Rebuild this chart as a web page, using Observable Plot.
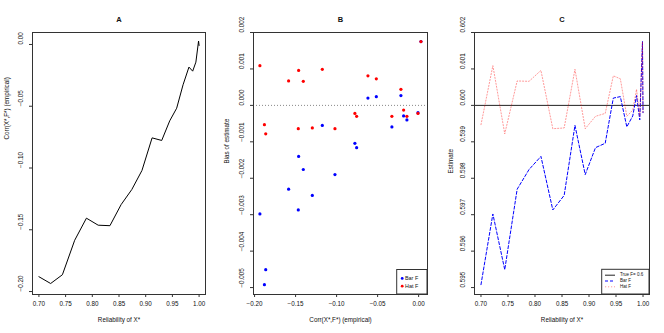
<!DOCTYPE html>
<html><head><meta charset="utf-8">
<script src="https://cdn.jsdelivr.net/npm/d3@7"></script>
<script src="https://cdn.jsdelivr.net/npm/@observablehq/plot@0.6"></script>
<style>
body{margin:0;background:#fff}
#wrap{position:relative;width:664px;height:333px;background:#fff;overflow:hidden}
.panel{position:absolute;top:0}
#legend{position:absolute;left:0;top:0;pointer-events:none}
</style></head><body><div id="wrap"></div>
<script>
// ---- data ----
const reliability = [0.700, 0.722, 0.744, 0.767, 0.789, 0.811, 0.833, 0.854, 0.874, 0.893,
                     0.912, 0.930, 0.945, 0.958, 0.970, 0.981, 0.988, 0.994, 0.999, 1.000];
const corrEmpirical = [-0.1880, -0.1935, -0.1864, -0.1585, -0.1406, -0.1463, -0.1467, -0.1296, -0.1174, -0.1020,
                       -0.0756, -0.0777, -0.0618, -0.0516, -0.0326, -0.0183, -0.0216, -0.0143, 0.0028, -0.0008];
const barF = [0.59508, 0.59702, 0.59549, 0.59770, 0.59824, 0.59860, 0.59713, 0.59753, 0.59945, 0.59810,
              0.59884, 0.59896, 0.60020, 0.60024, 0.59941, 0.59971, 0.60027, 0.59960, 0.60175, 0.59980];
const hatF = [0.59947, 0.60109, 0.59922, 0.60067, 0.60066, 0.60096, 0.59936, 0.59938, 0.60099, 0.59936,
              0.59970, 0.59978, 0.60081, 0.60073, 0.59970, 0.59987, 0.60044, 0.59970, 0.60175, 0.59978];
const trueF = 0.6;

const ticksRel = [0.70, 0.75, 0.80, 0.85, 0.90, 0.95, 1.00];
const ticksCorrA = [0.00, -0.05, -0.10, -0.15, -0.20];
const ticksCorrB = [-0.20, -0.15, -0.10, -0.05, 0.00];
const ticksBias = [0.002, 0.001, 0.000, -0.001, -0.002, -0.003, -0.004, -0.005];
const ticksEst = [0.595, 0.596, 0.597, 0.598, 0.599, 0.600, 0.601, 0.602];

const rows = reliability.map((r, i) => ({r, corr: corrEmpirical[i], bar: barF[i], hat: hatF[i]}));

// ---- helpers ----
const FONT = "'Liberation Sans', Arial, Helvetica, sans-serif";
const fmt = (k) => (d) => (d < 0 ? "\u2212" : "") + Math.abs(d).toFixed(k);
const TXT = "#111";

function decor({xTicks, yTicks, xf, yf, title, xLabel, yLabel, yLabelDx, yLabelDy}) {
  return [
    Plot.frame({stroke: "#333", strokeWidth: 1}),
    Plot.axisX({ticks: xTicks, tickSize: 3, tickFormat: () => "", label: null, stroke: "#333"}),
    Plot.axisY({ticks: yTicks, tickSize: 3, tickFormat: () => "", label: null, stroke: "#333"}),
    Plot.text(xTicks, {x: d => d, text: xf, frameAnchor: "bottom", dy: 11, fontSize: 6.3, fill: TXT}),
    Plot.text(yTicks, {y: d => d, text: yf, frameAnchor: "left", dx: -12, rotate: -90, fontSize: 6.3, fill: TXT}),
    Plot.text([title], {text: d => d, frameAnchor: "top", dy: -16, fontWeight: "bold", fontSize: 7.5, fill: TXT}),
    Plot.text([xLabel], {text: d => d, frameAnchor: "bottom", dy: 27, fontSize: 6.3, fill: TXT}),
    Plot.text([yLabel], {text: d => d, frameAnchor: "left", dx: yLabelDx, dy: yLabelDy, rotate: -90, fontSize: 6.3, fill: TXT})
  ];
}
const common = {height: 333, marginTop: 32, marginBottom: 39,
  style: {fontFamily: FONT, background: "transparent", overflow: "visible"}};

// Panel A
const plotA = Plot.plot({
  ...common, width: 221, marginLeft: 32, marginRight: 16,
  x: {domain: [0.688, 1.012]}, y: {domain: [-0.2024, 0.0097]},
  marks: [
    Plot.line(rows, {x: "r", y: "corr", stroke: "black", strokeWidth: 1}),
    ...decor({xTicks: ticksRel, yTicks: ticksCorrA, xf: fmt(2), yf: fmt(2), title: "A",
      xLabel: "Reliability of X*", yLabel: "Corr(X*,F*) (empirical)", yLabelDx: -26, yLabelDy: -24})
  ]
});

// Panel B
const plotB = Plot.plot({
  ...common, width: 221, marginLeft: 32, marginRight: 15,
  x: {domain: [-0.2013, 0.0108]}, y: {domain: [-0.00519, 0.002]},
  marks: [
    Plot.ruleY([0], {stroke: "#888", strokeDasharray: "1,2", strokeWidth: 1}),
    Plot.dot(rows, {x: "corr", y: d => d.bar - trueF, r: 1.6, fill: "blue", stroke: "none"}),
    Plot.dot(rows, {x: "corr", y: d => d.hat - trueF, r: 1.6, fill: "red", stroke: "none"}),
    ...decor({xTicks: ticksCorrB, yTicks: ticksBias, xf: fmt(2), yf: fmt(3), title: "B",
      xLabel: "Corr(X*,F*) (empirical)", yLabel: "Bias of estimate", yLabelDx: -27, yLabelDy: 0})
  ]
});

// Panel C
const plotC = Plot.plot({
  ...common, width: 222, marginLeft: 32, marginRight: 15,
  x: {domain: [0.688, 1.012]}, y: {domain: [0.59481, 0.602]},
  marks: [
    Plot.ruleY([trueF], {stroke: "#222", strokeWidth: 1}),
    Plot.line(rows, {x: "r", y: "bar", stroke: "blue", strokeWidth: 1, strokeDasharray: "3,2"}),
    Plot.line(rows, {x: "r", y: "hat", stroke: "red", strokeOpacity: 0.4, strokeWidth: 1, strokeDasharray: "1.2,1.8"}),
    ...decor({xTicks: ticksRel, yTicks: ticksEst, xf: fmt(2), yf: fmt(3), title: "C",
      xLabel: "Reliability of X*", yLabel: "Estimate", yLabelDx: -24, yLabelDy: 10})
  ]
});

const wrap = document.getElementById("wrap");
[[plotA, 0], [plotB, 221], [plotC, 442]].forEach(([p, left]) => {
  p.classList.add("panel");
  p.style.left = left + "px";
  wrap.appendChild(p);
});

// ---- legends ----
const ns = "http://www.w3.org/2000/svg";
const lg = document.createElementNS(ns, "svg");
lg.setAttribute("id", "legend");
lg.setAttribute("width", 664);
lg.setAttribute("height", 333);
lg.style.fontFamily = FONT;
function el(tag, attrs, text) {
  const e = document.createElementNS(ns, tag);
  for (const k in attrs) e.setAttribute(k, attrs[k]);
  if (text != null) e.textContent = text;
  lg.appendChild(e);
  return e;
}
// Legend B
el("rect", {x: 396.7, y: 269.5, width: 30.3, height: 24.5, fill: "white", stroke: "#333", "stroke-width": 1});
[["Bar F", "blue", 278.4], ["Hat F", "red", 286.2]].forEach(([t, c, y]) => {
  el("circle", {cx: 402.2, cy: y, r: 1.4, fill: c});
  el("text", {x: 405, y: y, "font-size": 5.4, "dominant-baseline": "middle", fill: TXT}, t);
});
// Legend C
el("rect", {x: 601.7, y: 269.3, width: 47.3, height: 24.7, fill: "white", stroke: "#333", "stroke-width": 1});
[["True F= 0.6", "#222", null, 1, 275.2], ["Bar F", "blue", "3,2", 1, 281], ["Hat F", "red", "1.2,1.8", 0.4, 286.8]].forEach(([t, c, da, op, y]) => {
  const a = {x1: 605, x2: 615, y1: y, y2: y, stroke: c, "stroke-width": 1, "stroke-opacity": op};
  if (da) a["stroke-dasharray"] = da;
  el("line", a);
  el("text", {x: 620, y: y, "font-size": 4.5, "dominant-baseline": "middle", fill: TXT}, t);
});
wrap.appendChild(lg);
</script></body></html>
